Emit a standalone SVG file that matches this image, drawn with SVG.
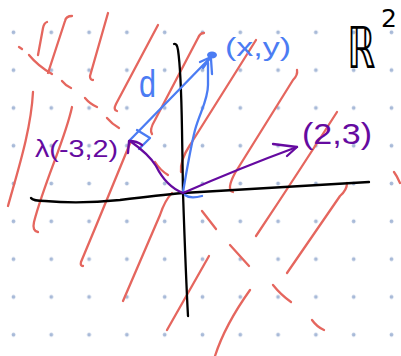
<svg xmlns="http://www.w3.org/2000/svg" width="401" height="356" viewBox="0 0 401 356">
<style>
.r{fill:none;stroke:#e5665e;stroke-width:2.3;stroke-linecap:round;stroke-linejoin:round}
.k{fill:none;stroke:#000;stroke-width:2.3;stroke-linecap:round;stroke-linejoin:round}
.b{fill:none;stroke:#4b7cf3;stroke-width:2.3;stroke-linecap:round;stroke-linejoin:round}
.p{fill:none;stroke:#650aa0;stroke-width:2.3;stroke-linecap:round;stroke-linejoin:round}
.t{font-family:"Liberation Sans","DejaVu Sans",sans-serif}
</style>
<defs>
<pattern id="dots" patternUnits="userSpaceOnUse" width="37.8" height="37.8">
<circle cx="13.5" cy="32.3" r="1.9" fill="#a8bad8"/>
</pattern>
</defs>
<rect width="401" height="356" fill="#fff"/>
<rect width="401" height="356" fill="url(#dots)"/>
<g id="hatching">
<path class="r" d="M47,22 Q44,23 43,28 L38,55"/>
<path class="r" d="M72,16 Q66,16 65,21 L48,73"/>
<path class="r" d="M108,13 L90,76 Q90,80 93,80"/>
<path class="r" d="M158,25 L116,104 Q113,110 117,111"/>
<path class="r" d="M33,92 C31,130 18,170 8,206"/>
<path class="r" d="M72,107 C65,140 45,180 34,222 Q32,231 38,232"/>
<path class="r" d="M204,33 Q200,33 198,38 L155,120 Q149,130 152,134"/>
<path class="r" d="M131,141 L96,226 Q86,250 81,262 Q80,266 83,266"/>
<path class="r" d="M256,40 L190,145 Q180,160 181,172"/>
<path class="r" d="M297,70 Q298,75 293,80 L235,173 Q226,190 233,192"/>
<path class="r" d="M337,112 Q300,170 256,236"/>
<path class="r" d="M347,183 Q347,190 340,196 L287,273"/>
<path class="r" d="M250,290 Q225,325 215,356"/>
<path class="r" d="M209,256 L167,330"/>
<path class="r" d="M172,193 Q165,200 160,215 L123,301"/>
<path class="r" d="M394,172 Q397,176 400,183"/>
</g>
<g id="dashed-line">
<path class="r" d="M19,47 L22,49"/>
<path class="r" d="M29,55 Q38,66 52,74"/>
<path class="r" d="M62,81 Q66,86 71,88"/>
<path class="r" d="M85,98 Q90,104 97,107"/>
<path class="r" d="M107,118 Q112,124 119,128"/>
<path class="r" d="M155,162 Q160,170 168,175"/>
<path class="r" d="M202,211 L216,229"/>
<path class="r" d="M230,245 L249,266"/>
<path class="r" d="M273,285 Q281,295 291,302"/>
<path class="r" d="M312,320 Q317,327 324,330"/>
</g>
<g id="axes">
<path class="k" d="M174,44 Q177,43 178,50 Q181,70 182,130 L183,193 Q186,280 188,316"/>
<path class="k" d="M31,198 Q33,201 45,201 Q80,204 120,200 Q160,195 183,193 L369,182"/>
</g>
<g id="distance">
<path class="b" d="M130,140 L210,58"/>
<path class="b" d="M137,130 L150,138 L139,149"/>
<path class="b" d="M183,192 C186,175 190,150 195,130 C200,112 208,100 208,85 L208,63"/>
<path class="b" d="M200,62 L211,57 M203,68 L210,58 M211,59 L212,74"/>
<path class="b" d="M185,195 Q190,199 202,196"/>
<ellipse cx="212" cy="55" rx="5" ry="3.5" fill="#4b7cf3"/>
</g>
<g id="vectors">
<path class="p" d="M183,193 C170,188 162,178 156,166 C150,156 140,148 130,141"/>
<path class="p" d="M128,153 L129,141 Q137,141 142,145"/>
<path class="p" d="M183,193 Q240,168 297,147"/>
<path class="p" d="M273,144 L297,147 L287,156"/>
</g>
<g id="labels">
<text class="t" x="225" y="56" font-size="25" fill="#4b7cf3" textLength="66" lengthAdjust="spacingAndGlyphs">(x,y)</text>
<text class="t" x="139" y="97" font-size="38" fill="#4b7cf3" textLength="17" lengthAdjust="spacingAndGlyphs">d</text>
<text class="t" x="35" y="157" font-size="24" fill="#650aa0" textLength="83" lengthAdjust="spacingAndGlyphs">λ(-3,2)</text>
<text class="t" x="302" y="144" font-size="30" fill="#650aa0" textLength="70" lengthAdjust="spacingAndGlyphs">(2,3)</text>
</g>
<g id="space-label">
<text font-family="DejaVu Sans, sans-serif" font-size="58" fill="#000" transform="translate(347,68) scale(0.62,1)">ℝ</text>
<text font-family="DejaVu Sans, sans-serif" font-size="25" fill="#000" x="381" y="27">2</text>
</g>
</svg>
